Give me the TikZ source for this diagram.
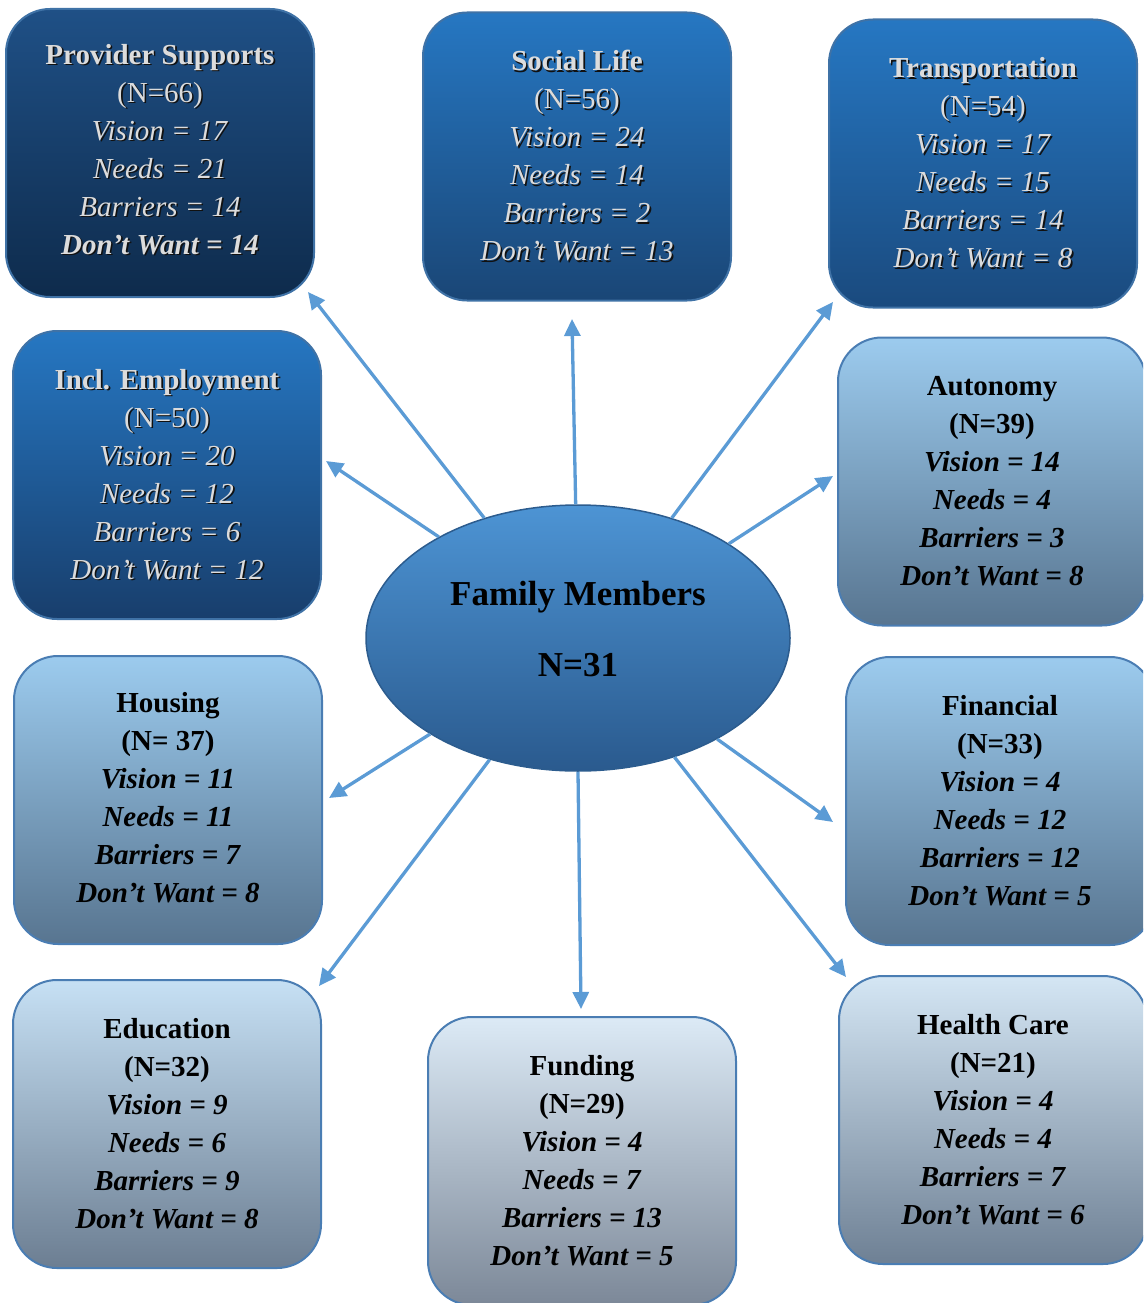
\documentclass[tikz,border=0pt]{standalone}
\usepackage{fontspec}
\setmainfont{Liberation Serif}
\usetikzlibrary{arrows.meta,shapes.geometric}
\definecolor{arrc}{HTML}{5B9BD5}
\definecolor{lighttxt}{HTML}{DCDCDC}
\definecolor{shadc}{HTML}{111111}
\definecolor{darkbord}{HTML}{3F72A6}
\definecolor{lightbord}{HTML}{4A7DB3}
\definecolor{elltop}{HTML}{4D94D4}
\definecolor{ellbot}{HTML}{2A5A8E}
\definecolor{ellbord}{HTML}{2C5C8E}
\definecolor{provtop}{HTML}{1F5086}
\definecolor{provbot}{HTML}{0E2B4C}
\definecolor{midtop}{HTML}{2677C2}
\definecolor{socbot}{HTML}{1A4676}
\definecolor{trbot}{HTML}{1A4A7E}
\definecolor{embot}{HTML}{183E6C}
\definecolor{lbtop}{HTML}{9CCBEE}
\definecolor{lbbot}{HTML}{587590}
\definecolor{edtop}{HTML}{C6E0F4}
\definecolor{edbot}{HTML}{6C7E92}
\definecolor{futop}{HTML}{DCEAF6}
\definecolor{fubot}{HTML}{7C8898}
\definecolor{hetop}{HTML}{D4E6F4}
\definecolor{hebot}{HTML}{6E8094}
\newcommand\lt[1]{\rlap{\kern1.6pt\raisebox{-1.6pt}{\textcolor{shadc}{#1}}}\textcolor{lighttxt}{#1}}
\newcommand\lift[1]{\rule[-#1]{0pt}{0pt}}
\tikzset{
  catbox/.style={rectangle, rounded corners=44pt, minimum width=308pt, minimum height=288pt,
    line width=2pt, align=center, inner sep=0pt,
    font=\fontsize{29}{38}\selectfont},
  darkbox/.style={catbox, draw=darkbord},
  lightbox/.style={catbox, draw=lightbord, text=black},
  arr/.style={draw=arrc, line width=3.3pt, -{Triangle[length=17pt,width=16pt]}},
}
\begin{document}
\begin{tikzpicture}[x=1pt,y=-1pt]
\useasboundingbox (0,0) rectangle (1143,1303);
\clip (0,0) rectangle (1143,1303);

% centre
\node[ellipse, minimum width=424pt, minimum height=266pt, inner sep=0pt,
  top color=elltop, bottom color=ellbot, draw=ellbord, line width=1.5pt,
  align=center, font=\fontsize{35}{71}\selectfont\bfseries] (fm) at (578,638)
  {Family Members\\N=31\lift{18pt}};

% dark boxes
\node[darkbox, top color=provtop, bottom color=provbot] (prov) at (160,153)
 {\lt{\textbf{Provider Supports}}\\ \lt{(N=66)}\\ \lt{\textit{Vision = 17}}\\ \lt{\textit{Needs = 21}}\\ \lt{\textit{Barriers = 14}}\\ \lt{\textbf{\textit{Don’t Want = 14}}}\lift{8pt}};
\node[darkbox, top color=midtop, bottom color=socbot] (social) at (577,156.5)
 {\lt{\textbf{Social Life}}\\ \lt{(N=56)}\\ \lt{\textit{Vision = 24}}\\ \lt{\textit{Needs = 14}}\\ \lt{\textit{Barriers = 2}}\\ \lt{\textit{Don’t Want = 13}}};
\node[darkbox, top color=midtop, bottom color=trbot] (transp) at (983,163.5)
 {\lt{\textbf{Transportation}}\\ \lt{(N=54)}\\ \lt{\textit{Vision = 17}}\\ \lt{\textit{Needs = 15}}\\ \lt{\textit{Barriers = 14}}\\ \lt{\textit{Don’t Want = 8}}};
\node[darkbox, top color=midtop, bottom color=embot] (empl) at (167,475)
 {\lt{\textbf{Incl. Employment}}\\ \lt{(N=50)}\\ \lt{\textit{Vision = 20}}\\ \lt{\textit{Needs = 12}}\\ \lt{\textit{Barriers = 6}}\\ \lt{\textit{Don’t Want = 12}}};

% light boxes
\node[lightbox, top color=lbtop, bottom color=lbbot] (auto) at (992,481.5)
 {\textbf{Autonomy}\\ \textbf{(N=39)}\\ \textbf{\textit{Vision = 14}}\\ \textbf{\textit{Needs = 4}}\\ \textbf{\textit{Barriers = 3}}\\ \textbf{\textit{Don’t Want = 8}}};
\node[lightbox, top color=lbtop, bottom color=lbbot] (housing) at (168,800)
 {\textbf{Housing}\\ \textbf{(N= 37)}\\ \textbf{\textit{Vision = 11}}\\ \textbf{\textit{Needs = 11}}\\ \textbf{\textit{Barriers = 7}}\\ \textbf{\textit{Don’t Want = 8}}\lift{6pt}};
\node[lightbox, top color=lbtop, bottom color=lbbot] (fin) at (1000,801)
 {\textbf{Financial}\\ \textbf{(N=33)}\\ \textbf{\textit{Vision = 4}}\\ \textbf{\textit{Needs = 12}}\\ \textbf{\textit{Barriers = 12}}\\ \textbf{\textit{Don’t Want = 5}}};
\node[lightbox, top color=edtop, bottom color=edbot] (edu) at (167,1124)
 {\textbf{Education}\\ \textbf{(N=32)}\\ \textbf{\textit{Vision = 9}}\\ \textbf{\textit{Needs = 6}}\\ \textbf{\textit{Barriers = 9}}\\ \textbf{\textit{Don’t Want = 8}}};
\node[lightbox, top color=futop, bottom color=fubot] (fund) at (582,1161)
 {\textbf{Funding}\\ \textbf{(N=29)}\\ \textbf{\textit{Vision = 4}}\\ \textbf{\textit{Needs = 7}}\\ \textbf{\textit{Barriers = 13}}\\ \textbf{\textit{Don’t Want = 5}}};
\node[lightbox, top color=hetop, bottom color=hebot] (health) at (993,1120)
 {\textbf{Health Care}\\ \textbf{(N=21)}\\ \textbf{\textit{Vision = 4}}\\ \textbf{\textit{Needs = 4}}\\ \textbf{\textit{Barriers = 7}}\\ \textbf{\textit{Don’t Want = 6}}};

% connectors
\draw[arr] (fm.128.1) -- ([shift={(-7,-6)}]prov.south east);
\draw[arr] (fm.91.3) -- ([shift={(-5,17.5)}]social.south);
\draw[arr] (fm.52.2) -- ([shift={(5,-6.5)}]transp.south west);
\draw[arr] (fm.144.8) -- ([shift={(4,-14)}]empl.east);
\draw[arr] (fm.32.7) -- ([shift={(-4,-5.5)}]auto.west);
\draw[arr] (fm.213.5) -- ([shift={(6,-2)}]housing.east);
\draw[arr] (fm.-36.1) -- ([shift={(-12,21)}]fin.west);
\draw[arr] (fm.234.4) -- ([shift={(-3,7)}]edu.north east);
\draw[arr] (fm.-90) -- ([shift={(-1,-7)}]fund.north);
\draw[arr] (fm.-51.4) -- ([shift={(8,2)}]health.north west);
\end{tikzpicture}
\end{document}
